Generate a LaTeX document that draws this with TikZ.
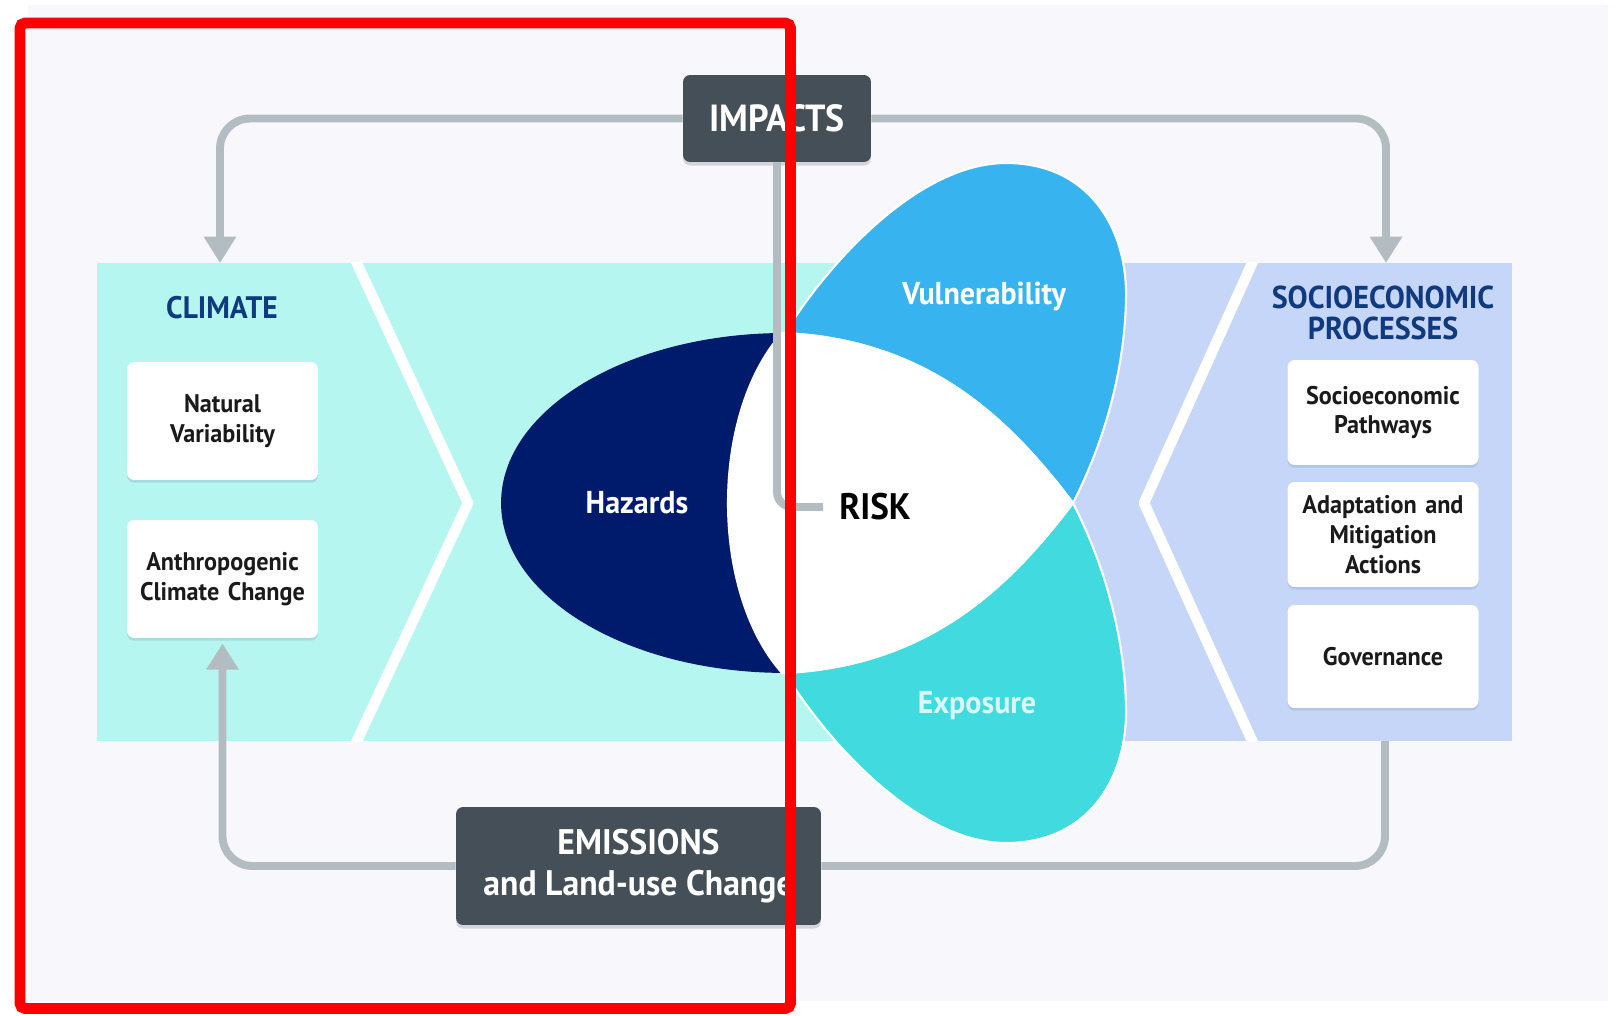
\documentclass[tikz,border=0pt]{standalone}
\usepackage{fontspec}
\setmainfont{PT Sans}[FakeStretch=0.95]
\usetikzlibrary{arrows.meta,shadows}

\definecolor{pagebg}{HTML}{F7F7FC}
\definecolor{climcyan}{HTML}{B5F6F0}
\definecolor{socilav}{HTML}{C6D6F8}
\definecolor{hazblue}{HTML}{001A6C}
\definecolor{vulnblue}{HTML}{37B3EF}
\definecolor{expocyan}{HTML}{40DADF}
\definecolor{darkgrey}{HTML}{454F57}
\definecolor{linkgrey}{HTML}{B3BDC1}
\definecolor{titleblue}{HTML}{0F3A7D}
\definecolor{boxtext}{HTML}{1A1A1A}
\definecolor{shadowblue}{HTML}{7F9FC8}

\tikzset{
  panelline/.style={white, line width=6pt, line join=round},
  whitebox/.style={fill=white, rounded corners=4pt, text width=3.6cm, align=center,
    minimum width=3.82cm, inner sep=0pt, text=boxtext,
    font=\fontsize{14.5}{17}\selectfont\bfseries,
    drop shadow={shadow xshift=0pt, shadow yshift=-1.5pt, opacity=0.3, fill=shadowblue}},
  darkbox/.style={fill=darkgrey, rounded corners=4pt, text=white, align=center, inner sep=0pt,
    drop shadow={shadow xshift=0pt, shadow yshift=-2pt, opacity=0.2, fill=darkgrey}},
  link/.style={draw=linkgrey, line width=4.5pt, rounded corners=0.6cm},
  tip/.style={-{Triangle[width=17.6pt,length=15pt]}},
  petal/.style={draw=white, line width=1.2pt},
  title/.style={text=titleblue, align=center, font=\bfseries},
  petallabel/.style={font=\fontsize{18}{20}\selectfont\bfseries},
}

\begin{document}
\begin{tikzpicture}[x=0.02cm,y=-0.02cm]
\useasboundingbox (0,0) rectangle (1622,1016);
\fill[white] (0,0) rectangle (1622,1016);
\fill[pagebg] (28,5) rectangle (1608,1001);

% panels
\fill[climcyan] (97,263) rectangle (960,741);
\fill[socilav] (960,263) rectangle (1512,741);
\begin{scope}
  \clip (97,263) rectangle (1512,741);
  \draw[panelline] (355,259) -- (468,503) -- (355,745);
  \draw[panelline] (1254,259) -- (1144,503) -- (1254,745);
\end{scope}

% risk trefoil
\fill[hazblue] (785,333) arc[start angle=90, end angle=270, x radius=5.68cm, y radius=3.4cm] -- cycle;
\filldraw[fill=vulnblue, petal] (785,333) .. controls (830,260) and (920,163) .. (1006,163)
  .. controls (1090,163) and (1128,230) .. (1126,300)
  .. controls (1124,380) and (1100,450) .. (1073,503)
  .. controls (1010,420) and (930,340) .. (785,333) -- cycle;
\filldraw[fill=expocyan, petal] (785,673) .. controls (830,746) and (920,843) .. (1006,843)
  .. controls (1090,843) and (1128,776) .. (1126,706)
  .. controls (1124,626) and (1100,556) .. (1073,503)
  .. controls (1010,586) and (930,666) .. (785,673) -- cycle;
\filldraw[fill=white, petal] (782,333) .. controls (745,375) and (728,440) .. (728,503)
  .. controls (728,566) and (745,631) .. (782,673)
  .. controls (930,666) and (1010,586) .. (1073,503)
  .. controls (1010,420) and (930,340) .. (782,333) -- cycle;

\node[petallabel, text=white] (hazards) at (637,503) {Hazards};
\node[petallabel, text=white] (vuln) at (984,297) {Vulnerability};
\node[petallabel, text=white!80!expocyan] (expo) at (977,706) {Exposure};
\node[font=\fontsize{21}{24}\selectfont\bfseries, inner sep=0pt] (risk) at (875,507) {RISK};

% climate side
\node[title, font=\fontsize{17.7}{19}\selectfont\bfseries] (climate) at (222,308) {CLIMATE};
\node[whitebox, minimum height=2.36cm] (natural) at (222.5,421) {Natural\\Variability};
\node[whitebox, minimum height=2.36cm] (anthro) at (222.5,579) {Anthropogenic\\Climate Change};

% socioeconomic side
\node[title, font=\fontsize{18}{17.5}\selectfont\bfseries] (socio) at (1383,313) {SOCIOECONOMIC\\PROCESSES};
\node[whitebox, minimum height=2.1cm] (pathways) at (1383,412.5) {Socioeconomic\\Pathways};
\node[whitebox, minimum height=2.1cm] (actions) at (1383,534.5) {Adaptation and\\Mitigation\\Actions};
\node[whitebox, minimum height=2.06cm] (governance) at (1383,656.5) {Governance};

% drivers
\node[darkbox, minimum width=3.76cm, minimum height=1.74cm, font=\fontsize{21.5}{24}\selectfont\bfseries] (impacts) at (777,118.5) {IMPACTS};
\node[darkbox, minimum width=7.3cm, minimum height=2.36cm, font=\fontsize{20.2}{23.5}\selectfont\bfseries] (emis) at (638.5,866) {EMISSIONS\\and Land-use Change};

\coordinate (climtop) at (220,263);
\coordinate (socitop) at (1386,263);
\coordinate (socibot) at (1385,741);

\draw[link, tip] (impacts.west) -| (climtop);
\draw[link, tip] (impacts.east) -| (socitop);
\draw[link, rounded corners=0.3cm, shorten >=9pt] (impacts.south) |- (risk.west);
\draw[link, tip, shorten >=0.1cm] (emis.west) -| (anthro.south);
\draw[link] (emis.east) -| (socibot);

% highlight frame
\draw[red, line width=6.2pt, rounded corners=3pt] (20,23) rectangle (790.5,1008.5);
\end{tikzpicture}
\end{document}
